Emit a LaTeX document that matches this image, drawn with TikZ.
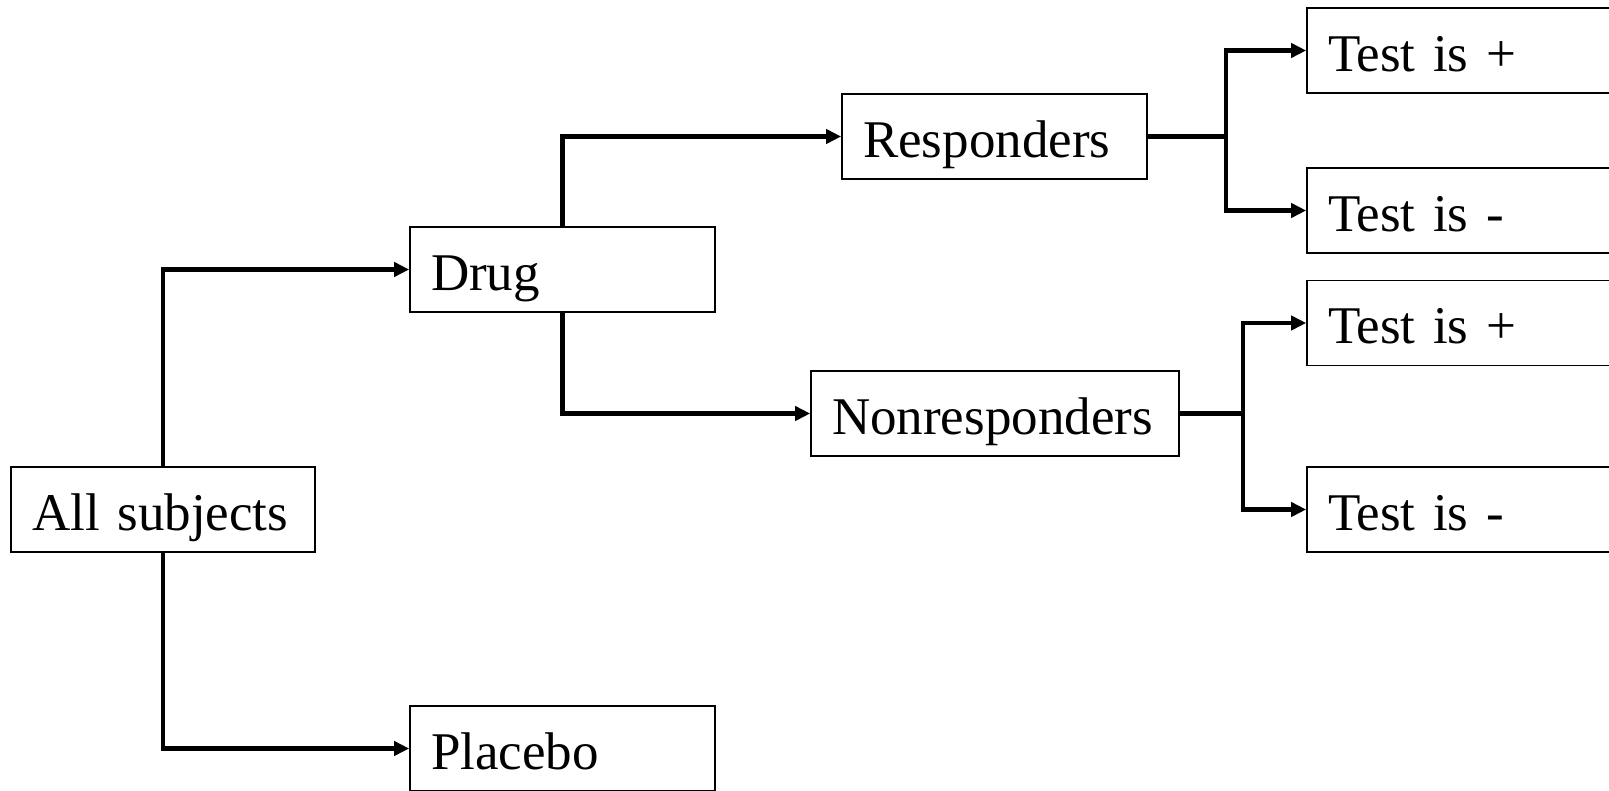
\documentclass[tikz,border=0pt]{standalone}
\usepackage{fontspec}
\setmainfont{Liberation Serif}
\usetikzlibrary{arrows.meta}
\begin{document}
\begin{tikzpicture}[x=1pt,y=-1pt,
  box/.style={draw=black,line width=1.6pt,fill=white,rectangle,
    inner xsep=21pt,inner ysep=0pt,text height=63pt,text depth=22pt,
    align=left,font=\fontsize{53}{60}\selectfont},
  conn/.style={line width=4.5pt,-{Triangle[length=15pt,width=14pt]}},
  plain/.style={line width=4.5pt}]
\useasboundingbox (0,0) rectangle (1609,790);
\clip (0,0) rectangle (1609,790);
\node[box,text width=262pt] (all) at (163,509.5) {All subjects};
\node[box,text width=263pt] (drug) at (562.5,269.5) {Drug};
\node[box,text width=263pt] (placebo) at (562.5,748.5) {Placebo};
\node[box,text width=263pt] (resp) at (994.5,136.5) {Responders};
\node[box,text width=326pt] (nonresp) at (995,413.5) {Nonresponders};
\node[box,text width=358pt] (t1) at (1507,50.5) {Test is +};
\node[box,text width=358pt] (t2) at (1507,210.5) {Test is -};
\node[box,text width=358pt] (t3) at (1507,323) {Test is +};
\node[box,text width=358pt] (t4) at (1507,509.5) {Test is -};
\coordinate (j1) at (1226,136.5);
\coordinate (j2) at (1243,413.5);
\draw[conn] (all.north) |- (drug.west);
\draw[conn] (all.south) |- (placebo.west);
\draw[conn] (drug.north) |- (resp.west);
\draw[conn] (drug.south) |- (nonresp.west);
\draw[plain] (resp.east) -- (j1);
\draw[conn] (j1) |- (t1.west);
\draw[conn] (j1) |- (t2.west);
\draw[plain] (nonresp.east) -- (j2);
\draw[conn] (j2) |- (t3.west);
\draw[conn] (j2) |- (t4.west);
\end{tikzpicture}
\end{document}
